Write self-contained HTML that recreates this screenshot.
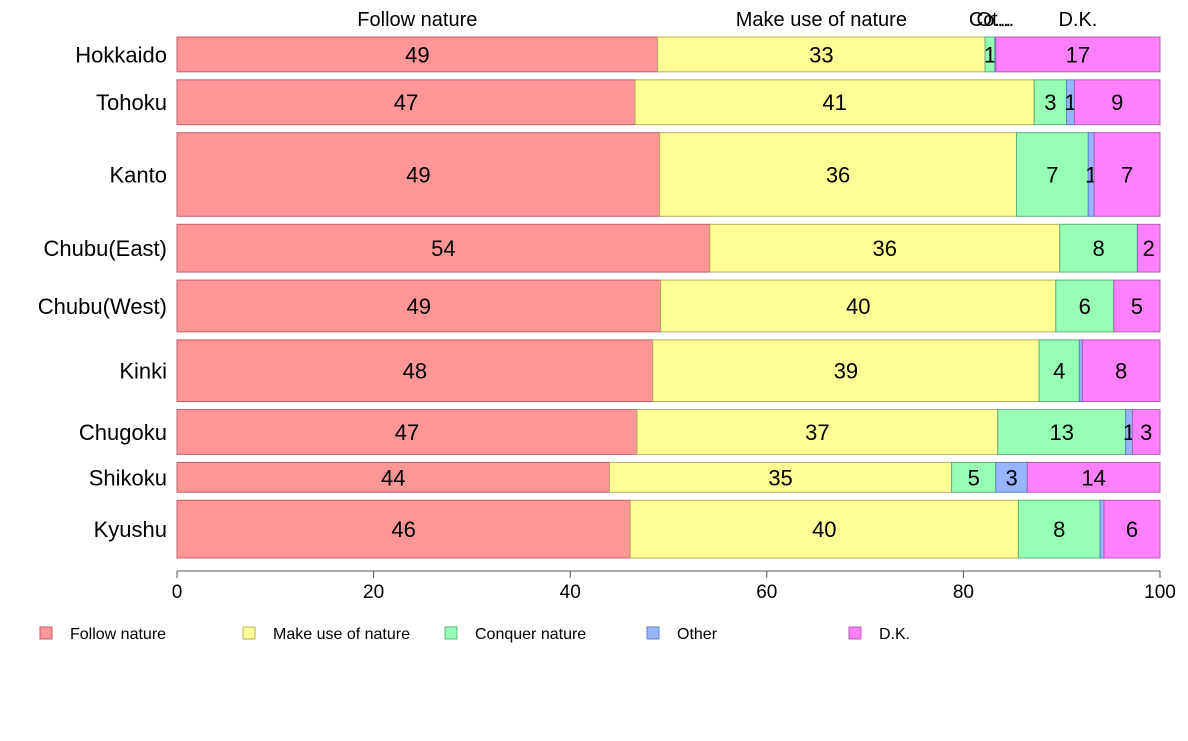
<!DOCTYPE html>
<html><head><meta charset="utf-8"><style>
body{margin:0;background:#fff;font-family:"Liberation Sans",Arial,sans-serif}
svg text{font-family:"Liberation Sans",Arial,sans-serif}
</style></head><body>
<svg id="chart" width="1188" height="736" xmlns="http://www.w3.org/2000/svg"></svg>
<script>
const regions=["Hokkaido","Tohoku","Kanto","Chubu(East)","Chubu(West)","Kinki","Chugoku","Shikoku","Kyushu"];
const sampleSizes=[35,45,84,48,52,62,45,30,58];
const followNature=[48.9,46.6,49.1,54.2,49.2,48.4,46.8,44.0,46.1];
const makeUseOfNature=[33.3,40.6,36.3,35.6,40.2,39.3,36.7,34.8,39.5];
const conquerNature=[1.0,3.3,7.3,7.9,5.9,4.1,13.0,4.5,8.3];
const other=[0.1,0.8,0.6,0.0,0.0,0.3,0.7,3.2,0.4];
const dontKnow=[16.7,8.7,6.7,2.3,4.7,7.9,2.8,13.5,5.7];
const seriesNames=["Follow nature","Make use of nature","Conquer nature","Other","D.K."];
const topLabels=["Follow nature","Make use of nature","Co...","Ot...","D.K."];
const ticks=[0,20,40,60,80,100];
const fills=["#ff9696","#ffff96","#96ffb4","#96b4ff","#ff80ff"];
const strokes=["#c06070","#b0b060","#60b080","#6080c0","#b060b0"];
const series=[followNature,makeUseOfNature,conquerNature,other,dontKnow];
const svg=document.getElementById('chart');
const NS="http://www.w3.org/2000/svg";
const X0=177,X1=1160,Y0=37,Y1=558,GAP=8;
const x=v=>X0+(X1-X0)*v/100;
const totalN=sampleSizes.reduce((a,b)=>a+b,0);
const unitH=(Y1-Y0-GAP*(regions.length-1))/totalN;
function mk(tag,attrs,txt){const e=document.createElementNS(NS,tag);for(const k in attrs)e.setAttribute(k,attrs[k]);if(txt!==undefined)e.textContent=txt;svg.appendChild(e);return e;}
let y=Y0;
regions.forEach((r,i)=>{
  const h=sampleSizes[i]*unitH;
  let cum=0;
  const t=mk('text',{x:167,y:y+h/2+8,'text-anchor':'end','font-size':22},r);
  
  
  series.forEach((s,j)=>{
    const v=s[i];
    const rc=mk('rect',{x:x(cum),y:y,width:Math.max(x(cum+v)-x(cum),0),height:h,fill:fills[j],stroke:strokes[j],'stroke-width':1});
    
    
    if(i===0){
      const tl=mk('text',{x:(x(cum)+x(cum+v))/2,y:26,'text-anchor':'middle','font-size':20},topLabels[j]);
      
      
    }
    if(Math.round(v)>=1){
      const lb=mk('text',{x:(x(cum)+x(cum+v))/2,y:y+h/2+8,'text-anchor':'middle','font-size':22},String(Math.round(v)));
      
      
    }
    cum+=v;
  });
  y+=h+GAP;
});
const ax=mk('line',{x1:X0,x2:X1,y1:571,y2:571,stroke:'#555'});


ticks.forEach((t,i)=>{
  const tk=mk('line',{x1:x(t),x2:x(t),y1:571,y2:578,stroke:'#555'});
  
  
  const tl=mk('text',{x:x(t),y:598,'text-anchor':'middle','font-size':19},String(t));
  
  
});
const legX=[40,243,445,647,849];
seriesNames.forEach((n,j)=>{
  const b=mk('rect',{x:legX[j],y:627,width:12,height:12,fill:fills[j],stroke:strokes[j]});
  
  
  const t=mk('text',{x:legX[j]+30,y:639,'font-size':16},n);
  
  
});
</script>
</body></html>
